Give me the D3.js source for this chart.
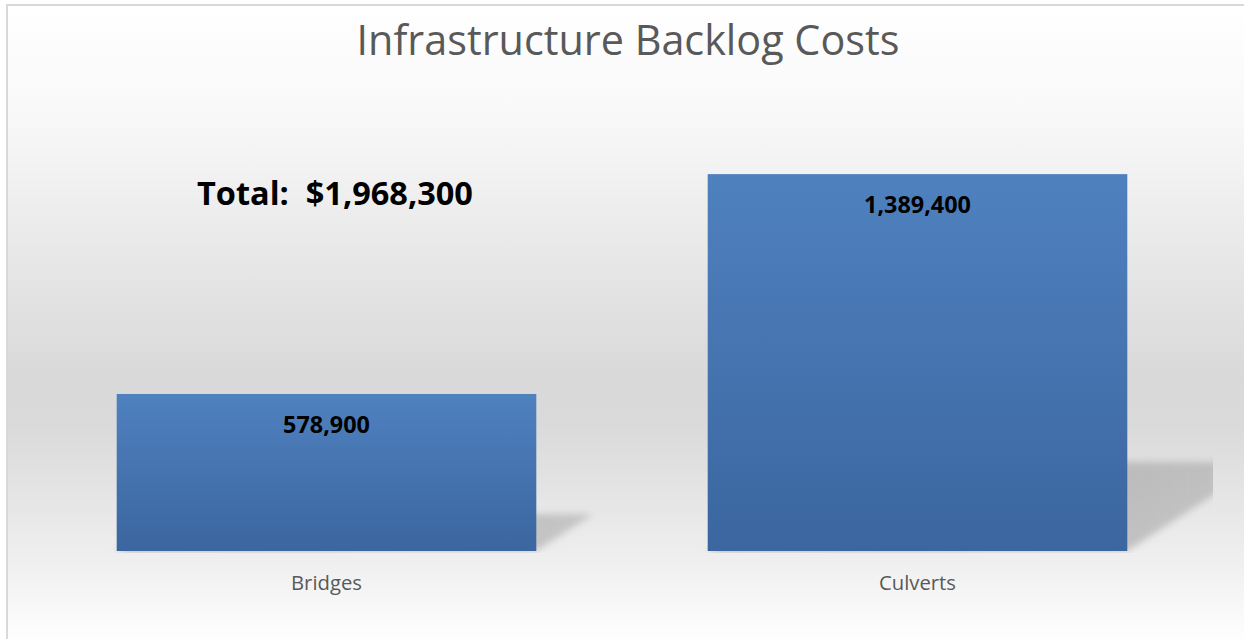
<!DOCTYPE html>
<html>
<head>
<meta charset="utf-8">
<script src="https://cdn.jsdelivr.net/npm/d3@7"></script>
<style>
  body { margin: 0; background: #fff; }
  svg { display: block; }
</style>
</head>
<body>
<div id="chart"></div>
<script>
// chart data
var categories = ["Bridges", "Culverts"];
var costs = [578900, 1389400];
var chartTitle = "Infrastructure Backlog Costs";
var totalLabel = "Total:  $1,968,300";

var width = 1244, height = 639;
var margin = {top: 117, right: 31, bottom: 88, left: 31};
var font = "'Open Sans', 'Noto Sans', sans-serif";

var svg = d3.select("#chart").append("svg")
  .attr("width", width)
  .attr("height", height);

var defs = svg.append("defs");

// background gradient (white -> grey -> white)
var bg = defs.append("linearGradient").attr("id", "bg")
  .attr("x1", 0).attr("y1", 0).attr("x2", 0).attr("y2", 1);
bg.append("stop").attr("offset", "0%").attr("stop-color", "#ffffff");
bg.append("stop").attr("offset", "18%").attr("stop-color", "#f8f8f8");
bg.append("stop").attr("offset", "58%").attr("stop-color", "#d9d9d9");
bg.append("stop").attr("offset", "66%").attr("stop-color", "#dadada");
bg.append("stop").attr("offset", "88%").attr("stop-color", "#f0f0f0");
bg.append("stop").attr("offset", "100%").attr("stop-color", "#ffffff");

// bar gradient
var barGrad = defs.append("linearGradient").attr("id", "barGrad")
  .attr("x1", 0).attr("y1", 0).attr("x2", 0).attr("y2", 1);
barGrad.append("stop").attr("offset", "0%").attr("stop-color", "#4f81bf");
barGrad.append("stop").attr("offset", "100%").attr("stop-color", "#3b669f");

// shadow
var shGrad = defs.append("linearGradient").attr("id", "shGrad")
  .attr("x1", 0).attr("y1", 0).attr("x2", 1).attr("y2", 0);
shGrad.append("stop").attr("offset", "0%").attr("stop-color", "#9a9a9a").attr("stop-opacity", 0.75);
shGrad.append("stop").attr("offset", "100%").attr("stop-color", "#9a9a9a").attr("stop-opacity", 0.45);
defs.append("filter").attr("id", "blur")
  .attr("x", "-20%").attr("y", "-20%").attr("width", "140%").attr("height", "140%")
  .append("feGaussianBlur").attr("stdDeviation", 3.5);

// chart frame
svg.append("rect")
  .attr("x", 7).attr("y", 5)
  .attr("width", width).attr("height", height)
  .attr("fill", "url(#bg)")
  .attr("stroke", "#d9d9d9")
  .attr("stroke-width", 2);

var x = d3.scaleBand()
  .domain(categories)
  .range([margin.left, width - margin.right])
  .paddingInner(0.29)
  .paddingOuter(0.145);

var y = d3.scaleLinear()
  .domain([0, 1600000])
  .range([height - margin.bottom, margin.top]);

defs.append("clipPath").attr("id", "plotClip")
  .append("rect")
  .attr("x", margin.left).attr("y", margin.top)
  .attr("width", width - margin.left - margin.right)
  .attr("height", height - margin.top - margin.bottom + 2);

// perspective shadows behind bars
var shScale = 0.236, shSkew = 1.54;
svg.append("g")
  .attr("clip-path", "url(#plotClip)")
  .selectAll("polygon")
  .data(costs)
  .enter()
  .append("polygon")
    .attr("points", function (d, i) {
      var x0 = x(categories[i]), x1 = x0 + x.bandwidth();
      var b = y(0), h = (y(0) - y(d)) * shScale, off = h * shSkew;
      return [[x0, b], [x1, b], [x1 + off, b - h], [x0 + off, b - h]].join(" ");
    })
    .attr("fill", "url(#shGrad)")
    .attr("filter", "url(#blur)");

// bars
svg.append("g")
  .selectAll("rect")
  .data(costs)
  .enter()
  .append("rect")
    .attr("x", function (d, i) { return x(categories[i]); })
    .attr("y", function (d) { return y(d); })
    .attr("width", x.bandwidth())
    .attr("height", function (d) { return y(0) - y(d); })
    .attr("fill", "url(#barGrad)");

function fit(sel, target) {
  var len = sel.node().getComputedTextLength();
  var fs = parseFloat(sel.attr("font-size"));
  sel.attr("font-size", fs * target / len);
  return fs * target / len;
}

// value labels
var valLabels = svg.append("g")
  .selectAll("text")
  .data(costs)
  .enter()
  .append("text")
    .attr("x", function (d, i) { return x(categories[i]) + x.bandwidth() / 2; })
    .attr("y", function (d) { return y(d) + 39; })
    .attr("text-anchor", "middle")
    .attr("font-family", font)
    .attr("font-weight", "bold")
    .attr("font-size", 20)
    .attr("fill", "#000")
    .text(function (d) { return d3.format(",")(d); });
var vfs = fit(d3.select(valLabels.nodes()[0]), 87);
valLabels.attr("font-size", vfs);

// category axis labels
var catLabels = svg.append("g")
  .selectAll("text")
  .data(categories)
  .enter()
  .append("text")
    .attr("x", function (d) { return x(d) + x.bandwidth() / 2; })
    .attr("y", 590)
    .attr("text-anchor", "middle")
    .attr("font-family", font)
    .attr("font-size", 18)
    .attr("fill", "#595959")
    .text(function (d) { return d; });
var cfs = fit(d3.select(catLabels.nodes()[0]), 71);
catLabels.attr("font-size", cfs);

// title
var title = svg.append("text")
  .attr("x", 628)
  .attr("y", 55)
  .attr("text-anchor", "middle")
  .attr("font-family", font)
  .attr("font-size", 40)
  .attr("fill", "#595959")
  .text(chartTitle);
fit(title, 543);

// total annotation
var total = svg.append("text")
  .attr("x", 197)
  .attr("y", 205)
  .attr("font-family", font)
  .attr("font-weight", "bold")
  .attr("font-size", 32)
  .attr("fill", "#000")
  .style("white-space", "pre")
  .text(totalLabel);
fit(total, 276);
</script>
</body>
</html>
